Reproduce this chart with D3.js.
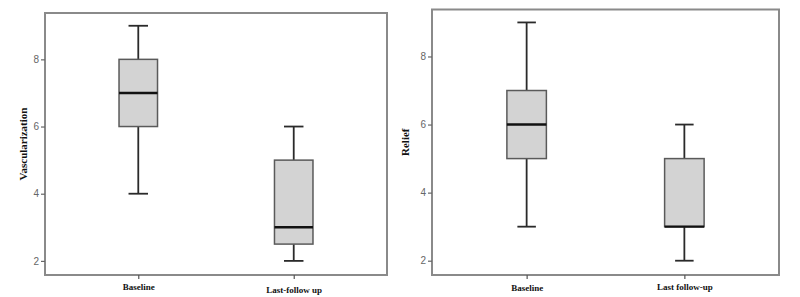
<!DOCTYPE html>
<html><head><meta charset="utf-8">
<script src="https://cdn.jsdelivr.net/npm/d3@7"></script>
<style>body{margin:0;background:#fff}svg{display:block}</style>
</head><body>
<svg id="c" width="800" height="297"></svg>
<script>
const categoriesA = ["Baseline", "Last-follow up"];
const statsA = [ // min, q1, median, q3, max
  [4, 6, 7, 8, 9],
  [2, 2.5, 3, 5, 6]
];
const categoriesB = ["Baseline", "Last follow-up"];
const statsB = [
  [3, 5, 6, 7, 9],
  [2, 3, 3, 5, 6]
];
const yTicks = [2, 4, 6, 8];
const titleA = "Vascularization";
const titleB = "Relief";

const svg = d3.select("#c");

function panel(opts) {
  const {x0, x1, y0, y1, cats, stats, label, labelX, boxW, capW, catLabelDy} = opts;
  const g = svg.append("g");
  const y = d3.scaleLinear().domain([1.58, 9.38]).range([y1, y0]);
  const x = d3.scalePoint().domain(cats).range([x0, x1]).padding(0.6);

  // frame
  g.append("rect").attr("x", x0).attr("y", y0).attr("width", x1 - x0).attr("height", y1 - y0)
    .attr("fill", "none").attr("stroke", "#8a8a8a").attr("stroke-width", 2);

  // y axis
  const ya = g.append("g").attr("transform", `translate(${x0},0)`)
    .call(d3.axisLeft(y).tickValues(yTicks).tickSize(4).tickPadding(2).tickFormat(d3.format("d")));
  ya.select(".domain").remove();
  ya.selectAll("line").attr("stroke", "#666").attr("stroke-width", 1.2);
  ya.selectAll("text").attr("fill", "#666").attr("font-family", "Liberation Sans, Arial, sans-serif").attr("font-size", 10);

  // x axis
  const xa = g.append("g").attr("transform", `translate(0,${y1})`)
    .call(d3.axisBottom(x).tickSize(4).tickPadding(5));
  xa.select(".domain").remove();
  xa.selectAll("line").attr("stroke", "#555").attr("stroke-width", 1.2);
  xa.selectAll("text").attr("fill", "#111").attr("font-family", "Liberation Serif, Times New Roman, serif")
    .attr("font-weight", "bold").attr("font-size", 9)
    .attr("dy", (d, i) => (0.71 + catLabelDy[i]) + "em");

  // boxes
  stats.forEach((s, i) => {
    const cx = x(cats[i]);
    const [mn, q1, md, q3, mx] = s;
    const wc = "#2a2a2a";
    // whiskers
    g.append("line").attr("x1", cx).attr("x2", cx).attr("y1", y(q3)).attr("y2", y(mx)).attr("stroke", wc).attr("stroke-width", 1.8);
    g.append("line").attr("x1", cx).attr("x2", cx).attr("y1", y(q1)).attr("y2", y(mn)).attr("stroke", wc).attr("stroke-width", 1.8);
    g.append("line").attr("x1", cx - capW / 2).attr("x2", cx + capW / 2).attr("y1", y(mx)).attr("y2", y(mx)).attr("stroke", wc).attr("stroke-width", 1.8);
    g.append("line").attr("x1", cx - capW / 2).attr("x2", cx + capW / 2).attr("y1", y(mn)).attr("y2", y(mn)).attr("stroke", wc).attr("stroke-width", 1.8);
    // box
    g.append("rect").attr("x", cx - boxW / 2).attr("y", y(q3)).attr("width", boxW).attr("height", y(q1) - y(q3))
      .attr("fill", "#d3d3d3").attr("stroke", "#5a5a5a").attr("stroke-width", 1.5);
    // median
    g.append("line").attr("x1", cx - boxW / 2).attr("x2", cx + boxW / 2).attr("y1", y(md)).attr("y2", y(md))
      .attr("stroke", "#111").attr("stroke-width", 2.4);
  });

  // y title
  const cy = (y0 + y1) / 2;
  g.append("text").attr("transform", `translate(${labelX},${cy}) rotate(-90)`)
    .attr("text-anchor", "middle").attr("font-family", "Liberation Serif, Times New Roman, serif")
    .attr("font-weight", "bold").attr("font-size", 11).attr("fill", "#111").text(label);
}

panel({x0: 45, x1: 387, y0: 13, y1: 275, cats: categoriesA, stats: statsA, label: titleA, labelX: 27,
  boxW: 38.5, capW: 19.5, catLabelDy: [0, 0.3]});
panel({x0: 432, x1: 779, y0: 9.5, y1: 275, cats: categoriesB, stats: statsB, label: titleB, labelX: 409,
  boxW: 39.5, capW: 18.5, catLabelDy: [0.1, 0]});
</script>
</body></html>
